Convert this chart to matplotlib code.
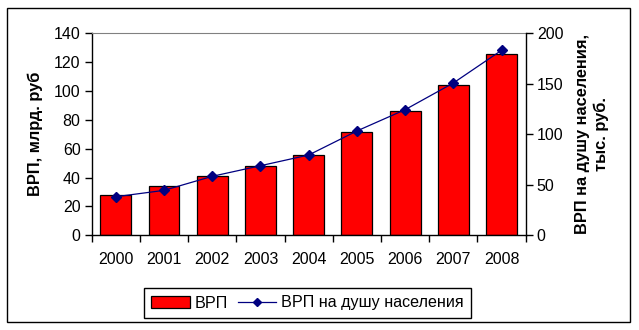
import matplotlib
matplotlib.use("Agg")
import matplotlib.pyplot as plt
from matplotlib.patches import Rectangle, Patch
from matplotlib.lines import Line2D
import numpy as np

years = ["2000", "2001", "2002", "2003", "2004", "2005", "2006", "2007", "2008"]
vrp = [27.9, 34.2, 41.1, 48.0, 55.6, 71.4, 86.1, 104.0, 125.6]
vrp_per_capita = [38.2, 44.5, 58.4, 68.9, 79.5, 103.3, 124.4, 150.8, 183.2]

plt.rcParams['font.family'] = ['Liberation Sans', 'DejaVu Sans']

W, H = 639, 330
fig = plt.figure(figsize=(W / 100, H / 100), dpi=100)

# outer border
fig.patches.append(Rectangle((7 / W, 8 / H), (629.5 - 7) / W, (322.5 - 8) / H,
                             transform=fig.transFigure, fill=False,
                             edgecolor='black', linewidth=1.0))

ax = fig.add_axes([91.7 / W, (H - 235.3) / H, 434 / W, 202 / H])
x = np.arange(len(years))
ax.bar(x, vrp, width=0.64, color='#ff0000', edgecolor='black', linewidth=0.9, zorder=2)
ax.set_xlim(-0.5, len(years) - 0.5)
ax.set_ylim(0, 140)
ax.set_yticks(range(0, 141, 20))
ax.set_xticks(x)
ax.set_xticklabels(years)
ax.set_xticks(np.arange(-0.5, len(years), 1.0), minor=True)
ax.tick_params(axis='x', which='major', length=0, pad=12, labelsize=11.5)
ax.tick_params(axis='x', which='minor', length=5, width=1, direction='out')
ax.tick_params(axis='y', length=5, width=1, direction='out', labelsize=11.5, pad=3)
ax.spines['top'].set_color('#808080')
ax.spines['right'].set_visible(False)
ax.spines['left'].set_linewidth(1)
ax.spines['bottom'].set_linewidth(1)
ax.set_ylabel("ВРП, млрд. руб", fontsize=11.8, fontweight='bold', labelpad=8)

ax2 = ax.twinx()
ax2.plot(x, vrp_per_capita, color='#000080', linewidth=0.9, marker='D',
         markersize=5, markerfacecolor='#000080', markeredgecolor='#000080', zorder=3)
ax2.set_ylim(0, 200)
ax2.set_yticks(range(0, 201, 50))
ax2.tick_params(axis='y', length=5, width=1, direction='out', labelsize=11.5, pad=3)
ax2.spines['top'].set_visible(False)
ax2.spines['left'].set_visible(False)
ax2.spines['bottom'].set_visible(False)
ax2.spines['right'].set_linewidth(1)
ax2.set_ylabel("ВРП на душу населения,\nтыс. руб.", fontsize=11.8, fontweight='bold',
               labelpad=8, linespacing=1.35)

handles = [Patch(facecolor='#ff0000', edgecolor='black', linewidth=0.9),
           Line2D([0], [0], color='#000080', linewidth=0.9, marker='D', markersize=4,
                  markerfacecolor='#000080')]
leg = fig.legend(handles, ["ВРП", "ВРП на душу населения"], loc='center',
                 bbox_to_anchor=(307.5 / W, (H - 303) / H), ncol=2, frameon=True,
                 fancybox=False, edgecolor='black', framealpha=1, fontsize=11.6,
                 handlelength=2.4, handletextpad=0.3, columnspacing=0.6,
                 borderpad=0.45, borderaxespad=0)
leg.get_frame().set_linewidth(1)

fig.savefig("out.png", dpi=100)
